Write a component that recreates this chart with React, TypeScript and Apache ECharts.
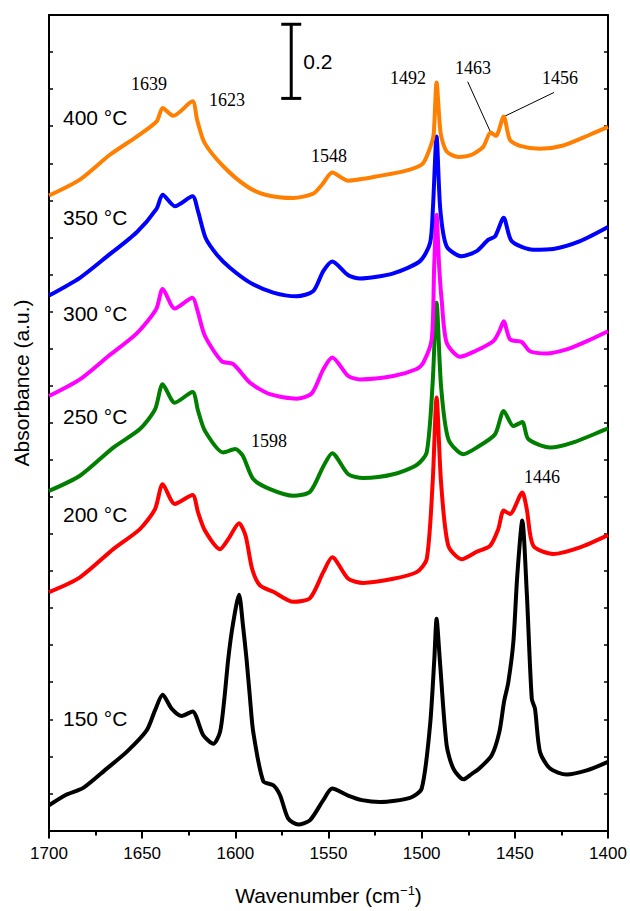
import React, { useEffect, useRef } from "react";
import * as echarts from "echarts";

// IR spectra of adsorbed species after evacuation at increasing temperatures.
// Each curve: wavenumbers (cm-1) and absorbance (a.u., stacked offsets included).

const wn400 = [1700, 1683.4, 1667.3, 1652.9, 1642.2, 1639, 1633.3, 1623, 1620.5, 1616.5, 1606.5, 1593.9, 1583.9, 1568.9, 1558.2, 1553.5, 1548, 1539.4, 1522.4, 1506.3, 1499.1, 1494.6, 1493.5, 1492, 1489.8, 1486.6, 1480.3, 1473.1, 1466.9, 1463, 1460.1, 1456, 1452.6, 1447.2, 1436.5, 1424, 1409.7, 1400];
const abs400 = [1.713, 1.756, 1.823, 1.872, 1.913, 1.949, 1.928, 1.967, 1.917, 1.855, 1.792, 1.738, 1.715, 1.706, 1.718, 1.742, 1.775, 1.753, 1.766, 1.783, 1.801, 1.855, 1.881, 2.018, 1.881, 1.832, 1.817, 1.823, 1.845, 1.883, 1.874, 1.926, 1.863, 1.847, 1.839, 1.848, 1.877, 1.898];

const wn350 = [1700, 1683.4, 1669, 1652.9, 1642.3, 1639, 1632.4, 1623, 1620, 1616, 1610, 1602.9, 1592.1, 1579.6, 1567.1, 1558.2, 1552.8, 1548, 1539.4, 1533.1, 1515.2, 1500.9, 1495.5, 1494, 1492, 1490, 1486.6, 1478.5, 1470.5, 1464.2, 1460.6, 1456, 1451.7, 1440.1, 1429.4, 1415, 1400];
const abs350 = [1.443, 1.491, 1.548, 1.614, 1.677, 1.715, 1.684, 1.711, 1.67, 1.599, 1.554, 1.518, 1.478, 1.451, 1.441, 1.455, 1.509, 1.535, 1.498, 1.489, 1.503, 1.536, 1.585, 1.675, 1.872, 1.675, 1.576, 1.549, 1.563, 1.594, 1.603, 1.653, 1.59, 1.567, 1.569, 1.59, 1.628];

const wn300 = [1700, 1683.4, 1669, 1652.9, 1642.5, 1639, 1632.5, 1623, 1620.5, 1616.3, 1607.3, 1601.1, 1592.1, 1581.4, 1567.1, 1559, 1552.8, 1548, 1539.4, 1533.1, 1515.2, 1502.7, 1499.1, 1494.6, 1493.3, 1492, 1490.6, 1489.3, 1486.6, 1479.4, 1471.4, 1461.6, 1458.3, 1456, 1452.6, 1446.3, 1441.9, 1432.9, 1422.2, 1411.4, 1400];
const abs300 = [1.172, 1.217, 1.276, 1.341, 1.406, 1.461, 1.408, 1.437, 1.406, 1.334, 1.266, 1.258, 1.208, 1.177, 1.165, 1.179, 1.244, 1.276, 1.226, 1.217, 1.226, 1.245, 1.262, 1.325, 1.52, 1.661, 1.52, 1.433, 1.316, 1.278, 1.293, 1.32, 1.347, 1.374, 1.325, 1.318, 1.293, 1.287, 1.298, 1.32, 1.347];

const wn250 = [1700, 1683.4, 1665.5, 1651.2, 1643.1, 1639, 1632.5, 1623, 1620, 1616.3, 1606.5, 1600, 1596, 1590.4, 1581.4, 1568.9, 1559.9, 1552.8, 1548, 1539.4, 1531.3, 1515.2, 1502.7, 1497.3, 1494.1, 1492, 1489.6, 1485.7, 1477.7, 1470.5, 1460.6, 1456, 1450.8, 1446, 1442.8, 1431.1, 1418.6, 1400];
const abs250 = [0.916, 0.957, 1.033, 1.083, 1.136, 1.204, 1.154, 1.183, 1.132, 1.078, 1.02, 1.029, 1.011, 0.948, 0.921, 0.903, 0.914, 0.982, 1.018, 0.961, 0.951, 0.961, 0.986, 1.02, 1.208, 1.424, 1.199, 1.056, 1.015, 1.033, 1.069, 1.132, 1.091, 1.102, 1.056, 1.033, 1.047, 1.085];

const wn200 = [1700, 1683.4, 1665.5, 1651.2, 1643.1, 1639, 1632.5, 1623, 1620, 1616.3, 1608.2, 1603.8, 1598, 1594.5, 1591, 1586.8, 1579.6, 1568.9, 1559.9, 1552.8, 1548, 1539.4, 1531.3, 1515.2, 1502.7, 1497.3, 1494.1, 1492, 1489.6, 1485.7, 1478.5, 1470.5, 1463.3, 1458.9, 1456, 1452.6, 1446, 1443.6, 1440.1, 1429.4, 1415, 1400];
const abs200 = [0.643, 0.683, 0.759, 0.813, 0.867, 0.934, 0.881, 0.905, 0.858, 0.809, 0.759, 0.786, 0.829, 0.795, 0.706, 0.661, 0.644, 0.617, 0.627, 0.697, 0.737, 0.679, 0.668, 0.679, 0.697, 0.732, 0.939, 1.168, 0.939, 0.768, 0.732, 0.752, 0.768, 0.813, 0.863, 0.854, 0.912, 0.867, 0.768, 0.746, 0.764, 0.797];

const wn150 = [1700, 1690.5, 1681.6, 1669, 1658.3, 1647.6, 1643.1, 1639, 1634.2, 1628.8, 1623, 1617.2, 1611.8, 1608.2, 1605.9, 1603.8, 1601.4, 1598, 1595.9, 1594, 1592.1, 1590.4, 1585, 1579.6, 1576, 1571.6, 1566.2, 1559.9, 1552.8, 1548, 1539.5, 1532, 1522.4, 1506.3, 1500, 1495.5, 1493.2, 1492, 1490.3, 1486.6, 1483, 1477.6, 1473.1, 1469.6, 1462.4, 1458.3, 1455.8, 1453.5, 1450.8, 1448.7, 1446, 1443.6, 1440.9, 1439.2, 1436.5, 1431.1, 1422.2, 1411.4, 1400];
const abs150 = [0.068, 0.097, 0.115, 0.167, 0.212, 0.27, 0.324, 0.366, 0.329, 0.309, 0.321, 0.257, 0.234, 0.266, 0.355, 0.463, 0.553, 0.636, 0.553, 0.463, 0.355, 0.266, 0.133, 0.122, 0.095, 0.032, 0.016, 0.028, 0.082, 0.113, 0.094, 0.082, 0.077, 0.088, 0.113, 0.284, 0.463, 0.571, 0.463, 0.23, 0.167, 0.138, 0.153, 0.165, 0.203, 0.266, 0.347, 0.4, 0.508, 0.687, 0.836, 0.643, 0.355, 0.329, 0.212, 0.167, 0.151, 0.162, 0.185];

const temperatures = ["400 °C", "350 °C", "300 °C", "250 °C", "200 °C", "150 °C"];
const curveColors = ["#FF7F00", "#0000FF", "#FF00FF", "#007F00", "#FF0000", "#000000"];
const curveWn = [wn400, wn350, wn300, wn250, wn200, wn150];
const curveAbs = [abs400, abs350, abs300, abs250, abs200, abs150];

// band assignments written above the spectra
const bandLabels = ["1639", "1623", "1548", "1492", "1463", "1456", "1598", "1446"];

// 0.2 a.u. scale bar: [wavenumber, lower, upper]
const scaleBar = [1570, 1.975, 2.175];
const scaleBarText = "0.2";

// leader lines from the 1463 / 1456 labels to their bands on the 400 °C curve
const leader1463 = [[1475.3, 2.02], [1462.95, 1.883]];
const leader1456 = [[1429.0, 1.991], [1455.8, 1.926]];

const SANS = "'Liberation Sans', Arial, sans-serif";
const SERIF = "'Liberation Serif', 'Times New Roman', serif";

export default function App() {
  const ref = useRef<HTMLDivElement>(null);

  useEffect(() => {
    if (!ref.current) return;
    const chart = echarts.init(ref.current, undefined, { renderer: "svg" });

    const lineSeries = temperatures.map((t, i) => ({
      name: t,
      type: "line",
      data: curveWn[i].map((w, j) => [w, curveAbs[i][j]]),
      showSymbol: false,
      symbol: "none",
      smooth: 0.25,
      lineStyle: { color: curveColors[i], width: 4 },
      itemStyle: { color: curveColors[i] },
      z: 10 - i,
      markLine:
        i === 0
          ? {
              silent: true,
              symbol: ["none", "none"],
              label: { show: false },
              lineStyle: { color: "#000", width: 1, type: "solid" },
              data: [
                [{ coord: leader1463[0] }, { coord: leader1463[1] }],
                [{ coord: leader1456[0] }, { coord: leader1456[1] }],
              ],
            }
          : undefined,
    }));

    const barSeries = {
      type: "custom",
      data: [scaleBar],
      z: 20,
      renderItem: (_p: any, api: any) => {
        const top = api.coord([api.value(0), api.value(2)]);
        const bot = api.coord([api.value(0), api.value(1)]);
        const st = { stroke: "#000", lineWidth: 3 };
        return {
          type: "group",
          children: [
            { type: "line", shape: { x1: top[0], y1: top[1], x2: bot[0], y2: bot[1] }, style: st },
            { type: "line", shape: { x1: top[0] - 10, y1: top[1], x2: top[0] + 10, y2: top[1] }, style: st },
            { type: "line", shape: { x1: bot[0] - 10, y1: bot[1], x2: bot[0] + 10, y2: bot[1] }, style: st },
            {
              type: "text",
              x: top[0] + 12,
              y: (top[1] + bot[1]) / 2,
              style: { text: scaleBarText, fontSize: 21, fontFamily: SANS, fill: "#000", align: "left", verticalAlign: "middle" },
            },
          ],
        };
      },
    };

    const tempY = [117, 217.5, 313.5, 416, 514, 718];
    const tempText = temperatures.map((t, i) => ({
      type: "text",
      x: 63,
      y: tempY[i],
      z: 30,
      style: { text: t, fontSize: 21, fontFamily: SANS, fill: "#000", align: "left", verticalAlign: "middle" },
    }));

    const bandPos = [
      [149, 84],
      [227, 100],
      [329, 156],
      [408, 78],
      [473, 67.5],
      [560, 78],
      [269, 441],
      [542, 477],
    ];
    const bandText = bandLabels.map((b, i) => ({
      type: "text",
      x: bandPos[i][0],
      y: bandPos[i][1],
      z: 30,
      style: { text: b, fontSize: 18, fontFamily: SERIF, fill: "#000", align: "center", verticalAlign: "middle" },
    }));

    const axisLine = { show: true, onZero: false, lineStyle: { color: "#000", width: 2 } };

    chart.setOption({
      animation: false,
      backgroundColor: "#fff",
      grid: { left: 49, right: 22, top: 15, bottom: 79, containLabel: false },
      xAxis: [
        {
          type: "value",
          min: 1400,
          max: 1700,
          interval: 50,
          inverse: true,
          position: "bottom",
          axisLine,
          axisTick: { show: true, inside: false, length: 8, lineStyle: { color: "#000", width: 2 } },
          minorTick: { show: true, splitNumber: 2, length: 5, lineStyle: { color: "#000", width: 2 } },
          axisLabel: { fontSize: 17, fontFamily: SANS, color: "#000", margin: 14, formatter: (v: number) => String(v) },
          splitLine: { show: false },
          name: "{a|Wavenumber (cm}{s|−1}{a|)}",
          nameLocation: "middle",
          nameGap: 53,
          nameTextStyle: {
            rich: {
              a: { fontSize: 21, fontFamily: SANS, color: "#000", lineHeight: 24 },
              s: { fontSize: 13, fontFamily: SANS, color: "#000", verticalAlign: "top", lineHeight: 13 },
            },
          },
        },
        {
          type: "value",
          min: 1400,
          max: 1700,
          inverse: true,
          position: "top",
          axisLine,
          axisTick: { show: false },
          axisLabel: { show: false },
          splitLine: { show: false },
        },
      ],
      yAxis: [
        {
          type: "value",
          min: 0,
          max: 2.2,
          interval: 0.1,
          position: "left",
          axisLine,
          axisTick: { show: true, inside: true, length: 4, lineStyle: { color: "#000", width: 1.5 } },
          axisLabel: { show: false },
          splitLine: { show: false },
        },
        {
          type: "value",
          min: 0,
          max: 2.2,
          interval: 0.1,
          position: "right",
          axisLine,
          axisTick: { show: true, inside: true, length: 4, lineStyle: { color: "#000", width: 1.5 } },
          axisLabel: { show: false },
          splitLine: { show: false },
        },
      ],
      series: [...lineSeries, barSeries],
      graphic: [
        ...tempText,
        ...bandText,
        {
          type: "text",
          x: 21,
          y: 383,
          rotation: Math.PI / 2,
          z: 30,
          style: { text: "Absorbance (a.u.)", fontSize: 21, fontFamily: SANS, fill: "#000", align: "center", verticalAlign: "middle" },
        },
      ],
    });

    return () => chart.dispose();
  }, []);

  return <div ref={ref} style={{ position: "absolute", left: 0, top: 0, width: 630, height: 911 }} />;
}
